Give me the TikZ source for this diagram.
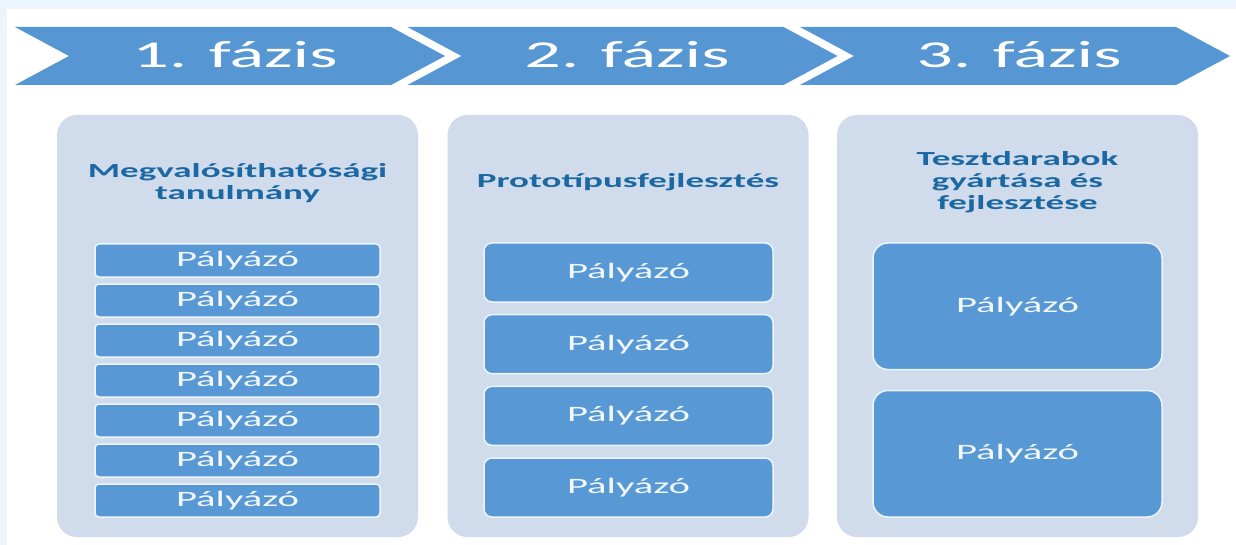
\documentclass[tikz,border=0pt]{standalone}
\usepackage{fontspec}
\newfontfamily\wf[FakeStretch=1.85]{Carlito}
\newfontfamily\wfp[FakeStretch=1.9]{Carlito}
\definecolor{bgblue}{RGB}{236,244,253}
\definecolor{chevblue}{RGB}{86,150,210}
\definecolor{colfill}{RGB}{208,219,236}
\definecolor{boxblue}{RGB}{88,152,212}
\definecolor{boxedge}{RGB}{235,245,250}
\definecolor{boxtext}{RGB}{242,248,250}
\definecolor{titleblue}{RGB}{28,104,163}
\tikzset{
  chev/.style={fill=chevblue, draw=none},
  phase/.style={text=white, font=\wfp\fontsize{38}{44}\selectfont, anchor=base, inner sep=0pt},
  colbox/.style={fill=colfill, draw=none, rounded corners=20pt, minimum width=361pt, minimum height=422pt, inner sep=0pt},
  coltitle/.style={text=titleblue, font=\wf\bfseries\fontsize{20}{22}\selectfont, align=center, inner sep=0pt},
  pbox/.style={fill=boxblue, draw=boxedge, line width=1.5pt, text=boxtext, font=\wf\fontsize{22}{26}\selectfont, inner sep=0pt},
  pboxa/.style={pbox, minimum width=285pt, minimum height=33pt, rounded corners=4pt},
  pboxb/.style={pbox, minimum width=289pt, minimum height=59pt, rounded corners=8pt},
  pboxc/.style={pbox, minimum width=289pt, minimum height=126.5pt, rounded corners=15pt}
}
\begin{document}
\begin{tikzpicture}[x=1pt,y=-1pt]
\useasboundingbox (0,0) rectangle (1236,545);
\fill[bgblue] (0,0) rectangle (1236,545);
\fill[white] (7,9.5) rectangle (1236,545);
% chevrons
\path[chev] (15,27) -- (391,27) -- (445,56) -- (391,85) -- (15,85) -- (69,56) -- cycle;
\path[chev] (407.5,27) -- (783.5,27) -- (837.5,56) -- (783.5,85) -- (407.5,85) -- (461.5,56) -- cycle;
\path[chev] (800,27) -- (1176,27) -- (1230,56) -- (1176,85) -- (800,85) -- (854,56) -- cycle;
\node[phase] (ph1) at (235,68) {1. fázis};
\node[phase] (ph2) at (627,68) {2. fázis};
\node[phase] (ph3) at (1019,68) {3. fázis};
% columns
\node[colbox] (col1) at (237.5,326) {};
\node[colbox] (col2) at (628,326) {};
\node[colbox] (col3) at (1017.5,326) {};
% titles
\node[coltitle] (tt1) at (237.5,183) {Megvalósíthatósági\\tanulmány};
\node[coltitle] (tt2) at (628,182) {Prototípusfejlesztés};
\node[coltitle] (tt3) at (1017.5,182.5) {Tesztdarabok\\gyártása és\\fejlesztése};
% column 1 boxes
\foreach \i in {0,...,6} {
  \node[pboxa] (a\i) at (237.5,{260.5+40*\i}) {Pályázó};
}
% column 2 boxes
\foreach \i in {0,...,3} {
  \node[pboxb] (b\i) at (628.5,{272.5+71.67*\i}) {Pályázó};
}
% column 3 boxes
\node[pboxc] (c0) at (1017.5,306.25) {Pályázó};
\node[pboxc] (c1) at (1017.5,453.75) {Pályázó};
\end{tikzpicture}
\end{document}
